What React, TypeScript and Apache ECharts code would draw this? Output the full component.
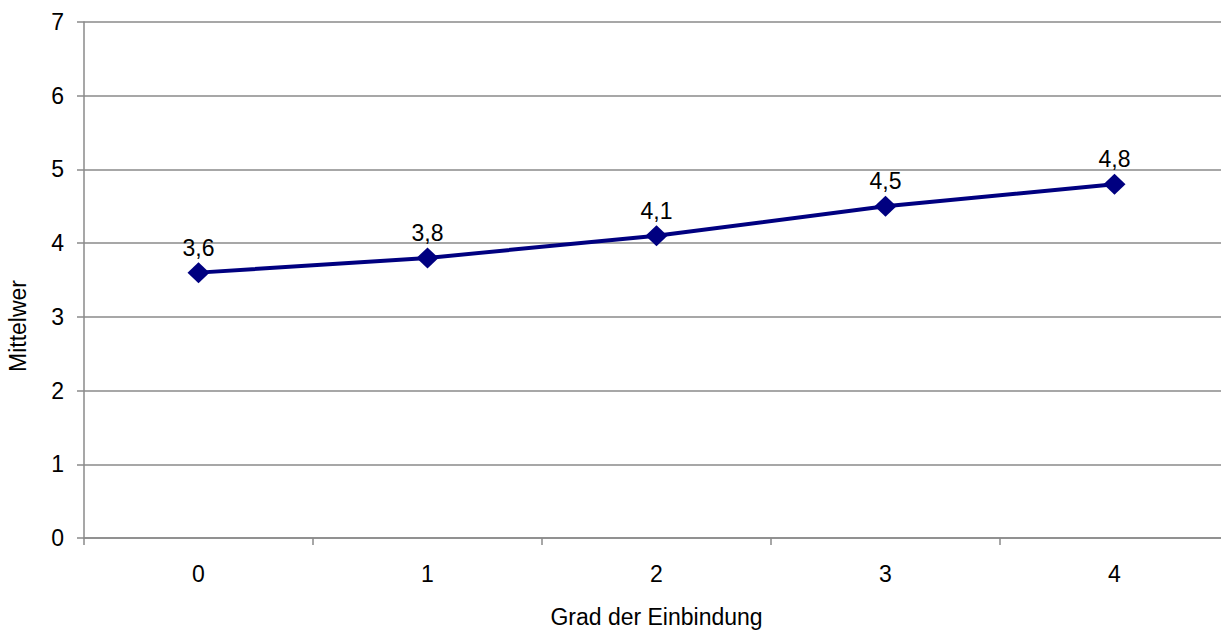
import React, { useEffect, useRef } from "react";
import * as echarts from "echarts";

// Mean value per degree of involvement
const categories = ["0", "1", "2", "3", "4"];
const meanValues = [3.6, 3.8, 4.1, 4.5, 4.8];
const yTicks = { min: 0, max: 7, interval: 1 };

const FONT = "'Liberation Sans', Arial, sans-serif";
const FONT_SIZE = 23;
const GRID_GRAY = "#8a8a8a";
const NAVY = "#000080";

export default function App() {
  const ref = useRef<HTMLDivElement>(null);

  useEffect(() => {
    if (!ref.current) return;
    const chart = echarts.init(ref.current, null, { renderer: "svg" });
    chart.setOption({
      animation: false,
      backgroundColor: "#ffffff",
      textStyle: { fontFamily: FONT },
      // the plot area runs a little past the right edge of the visible frame
      grid: { left: 84, top: 22, right: 11, bottom: 91, containLabel: false },
      xAxis: {
        type: "category",
        data: categories,
        boundaryGap: true,
        name: "Grad der Einbindung",
        nameLocation: "middle",
        nameGap: 67,
        nameTextStyle: { color: "#000", fontSize: FONT_SIZE, fontFamily: FONT },
        axisLine: { show: true, lineStyle: { color: GRID_GRAY, width: 1.5 } },
        axisTick: { show: true, length: 7, lineStyle: { color: GRID_GRAY, width: 1.5 } },
        axisLabel: { color: "#000", fontSize: FONT_SIZE, margin: 24, fontFamily: FONT },
        splitLine: { show: false },
      },
      yAxis: {
        type: "value",
        min: yTicks.min,
        max: yTicks.max,
        interval: yTicks.interval,
        axisLine: { show: true, lineStyle: { color: GRID_GRAY, width: 1.5 } },
        axisTick: { show: true, length: 7, lineStyle: { color: GRID_GRAY, width: 1.5 } },
        axisLabel: { color: "#000", fontSize: FONT_SIZE, margin: 20, fontFamily: FONT },
        splitLine: { show: true, lineStyle: { color: GRID_GRAY, width: 1.5 } },
      },
      graphic: [
        {
          type: "text",
          x: 18,
          y: 326,
          rotation: Math.PI / 2,
          style: {
            text: "Mittelwer",
            fill: "#000",
            fontSize: FONT_SIZE,
            fontFamily: FONT,
            textAlign: "center",
            textVerticalAlign: "middle",
          },
        },
      ],
      series: [
        {
          type: "line",
          data: meanValues,
          symbol: "diamond",
          symbolSize: [22, 21],
          showAllSymbol: true,
          lineStyle: { color: NAVY, width: 4 },
          itemStyle: { color: NAVY },
          label: {
            show: true,
            position: "top",
            distance: 3,
            color: "#000",
            fontSize: FONT_SIZE,
            fontFamily: FONT,
            formatter: (p: any) => String(p.value).replace(".", ","),
          },
        },
      ],
    });
    return () => chart.dispose();
  }, []);

  return (
    <div style={{ position: "fixed", left: 0, top: 0, width: 1221, height: 633, overflow: "hidden", background: "#fff" }}>
      <div ref={ref} style={{ width: 1240, height: 633 }} />
    </div>
  );
}
